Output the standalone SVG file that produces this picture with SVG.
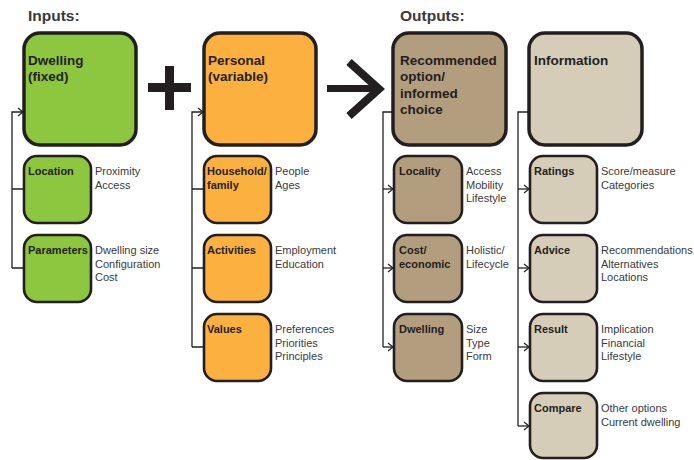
<svg xmlns="http://www.w3.org/2000/svg" width="694" height="460" viewBox="0 0 694 460">
  <style>
    .big { stroke: #231f20; stroke-width: 3.5; }
    .small { stroke: #231f20; stroke-width: 2.6; }
    .green { fill: #8dc63f; }
    .orange { fill: #fbb040; }
    .brown { fill: #b29e7f; }
    .beige { fill: #d6cdb9; }
    .head { font-family: "Liberation Sans", Arial, sans-serif; font-weight: bold; font-size: 15.5px; fill: #3a3a3a; }
    .title { font-family: "Liberation Sans", Arial, sans-serif; font-weight: bold; font-size: 13.5px; fill: #231f20; }
    .label { font-family: "Liberation Sans", Arial, sans-serif; font-weight: bold; font-size: 11px; fill: #231f20; }
    .desc { font-family: "Liberation Sans", Arial, sans-serif; font-size: 11px; fill: #3a3a3a; }
    .wire { fill: none; stroke: #231f20; stroke-width: 1.3; }
  </style>
  <defs>
    <marker id="arrow" markerWidth="8" markerHeight="10" refX="6" refY="5" orient="auto" markerUnits="userSpaceOnUse">
      <path d="M1,1 L6,5 L1,9" fill="none" stroke="#231f20" stroke-width="1.2"/>
    </marker>
  </defs>

  <rect width="694" height="460" fill="#ffffff"/>

  <!-- section headings -->
  <text class="head" x="28" y="21">Inputs:</text>
  <text class="head" x="400" y="21">Outputs:</text>

  <!-- operators between columns -->
  <g id="plus">
    <rect x="148" y="83" width="43" height="9" fill="#231f20"/>
    <rect x="165" y="66" width="9" height="44" fill="#231f20"/>
  </g>
  <g id="yields">
    <line x1="327" y1="88.5" x2="376" y2="88.5" stroke="#231f20" stroke-width="7"/>
    <polyline points="349,62 379,89 349,116" fill="none" stroke="#231f20" stroke-width="8"/>
  </g>

  <!-- connectors -->
  <g id="connectors">
    <path class="wire" d="M12,268 V112 H23" marker-end="url(#arrow)"/>
    <path class="wire" d="M12,189 H23 M12,268 H23"/>
    <path class="wire" d="M192,347 V112 H203" marker-end="url(#arrow)"/>
    <path class="wire" d="M192,189 H203 M192,268 H203 M192,347 H203"/>
    <path class="wire" d="M392,112 H383 V347"/>
    <path class="wire" d="M383,189 H393" marker-end="url(#arrow)"/>
    <path class="wire" d="M383,268 H393" marker-end="url(#arrow)"/>
    <path class="wire" d="M383,347 H393" marker-end="url(#arrow)"/>
    <path class="wire" d="M528,112 H518 V426"/>
    <path class="wire" d="M518,189 H529" marker-end="url(#arrow)"/>
    <path class="wire" d="M518,268 H529" marker-end="url(#arrow)"/>
    <path class="wire" d="M518,347 H529" marker-end="url(#arrow)"/>
    <path class="wire" d="M518,426 H529" marker-end="url(#arrow)"/>
  </g>

  <!-- Inputs: dwelling -->
  <g id="dwelling-fixed">
    <rect class="big green" x="24" y="33" width="112" height="112" rx="16"/>
    <text class="title" x="28" y="65">Dwelling</text>
    <text class="title" x="28" y="81">(fixed)</text>
  </g>
  <g id="location">
    <rect class="small green" x="24" y="156" width="67" height="67" rx="13"/>
    <text class="label" x="28" y="175">Location</text>
    <text class="desc" x="95" y="175">Proximity</text>
    <text class="desc" x="95" y="188.5">Access</text>
  </g>
  <g id="parameters">
    <rect class="small green" x="24" y="235" width="67" height="67" rx="13"/>
    <text class="label" x="28" y="254">Parameters</text>
    <text class="desc" x="95" y="254">Dwelling size</text>
    <text class="desc" x="95" y="267.5">Configuration</text>
    <text class="desc" x="95" y="281">Cost</text>
  </g>

  <!-- Inputs: personal -->
  <g id="personal">
    <rect class="big orange" x="204" y="33" width="112" height="112" rx="16"/>
    <text class="title" x="208" y="65">Personal</text>
    <text class="title" x="208" y="81">(variable)</text>
  </g>
  <g id="household">
    <rect class="small orange" x="204" y="156" width="67" height="67" rx="13"/>
    <text class="label" x="207" y="175">Household/</text>
    <text class="label" x="207" y="188.5">family</text>
    <text class="desc" x="275" y="175">People</text>
    <text class="desc" x="275" y="188.5">Ages</text>
  </g>
  <g id="activities">
    <rect class="small orange" x="204" y="235" width="67" height="67" rx="13"/>
    <text class="label" x="207" y="254">Activities</text>
    <text class="desc" x="275" y="254">Employment</text>
    <text class="desc" x="275" y="267.5">Education</text>
  </g>
  <g id="values">
    <rect class="small orange" x="204" y="314" width="67" height="67" rx="13"/>
    <text class="label" x="207" y="333">Values</text>
    <text class="desc" x="275" y="333">Preferences</text>
    <text class="desc" x="275" y="346.5">Priorities</text>
    <text class="desc" x="275" y="360">Principles</text>
  </g>

  <!-- Outputs: recommendation -->
  <g id="recommended">
    <rect class="big brown" x="393" y="33" width="113" height="112" rx="16"/>
    <text class="title" x="400" y="65">Recommended</text>
    <text class="title" x="400" y="81.3">option/</text>
    <text class="title" x="400" y="97.6">informed</text>
    <text class="title" x="400" y="114">choice</text>
  </g>
  <g id="locality">
    <rect class="small brown" x="394" y="156" width="68" height="67" rx="13"/>
    <text class="label" x="399" y="175">Locality</text>
    <text class="desc" x="466" y="175">Access</text>
    <text class="desc" x="466" y="188.5">Mobility</text>
    <text class="desc" x="466" y="202">Lifestyle</text>
  </g>
  <g id="cost">
    <rect class="small brown" x="394" y="235" width="68" height="67" rx="13"/>
    <text class="label" x="399" y="254">Cost/</text>
    <text class="label" x="399" y="267.5">economic</text>
    <text class="desc" x="466" y="254">Holistic/</text>
    <text class="desc" x="466" y="267.5">Lifecycle</text>
  </g>
  <g id="dwelling-out">
    <rect class="small brown" x="394" y="314" width="68" height="67" rx="13"/>
    <text class="label" x="399" y="333">Dwelling</text>
    <text class="desc" x="466" y="333">Size</text>
    <text class="desc" x="466" y="346.5">Type</text>
    <text class="desc" x="466" y="360">Form</text>
  </g>

  <!-- Outputs: information -->
  <g id="information">
    <rect class="big beige" x="529" y="33" width="113" height="112" rx="16"/>
    <text class="title" x="534" y="65">Information</text>
  </g>
  <g id="ratings">
    <rect class="small beige" x="530" y="156" width="67" height="67" rx="13"/>
    <text class="label" x="534" y="175">Ratings</text>
    <text class="desc" x="601" y="175">Score/measure</text>
    <text class="desc" x="601" y="188.5">Categories</text>
  </g>
  <g id="advice">
    <rect class="small beige" x="530" y="235" width="67" height="67" rx="13"/>
    <text class="label" x="534" y="254">Advice</text>
    <text class="desc" x="601" y="254">Recommendations</text>
    <text class="desc" x="601" y="267.5">Alternatives</text>
    <text class="desc" x="601" y="281">Locations</text>
  </g>
  <g id="result">
    <rect class="small beige" x="530" y="314" width="67" height="67" rx="13"/>
    <text class="label" x="534" y="333">Result</text>
    <text class="desc" x="601" y="333">Implication</text>
    <text class="desc" x="601" y="346.5">Financial</text>
    <text class="desc" x="601" y="360">Lifestyle</text>
  </g>
  <g id="compare">
    <rect class="small beige" x="530" y="393" width="67" height="65" rx="13"/>
    <text class="label" x="534" y="412">Compare</text>
    <text class="desc" x="601" y="412">Other options</text>
    <text class="desc" x="601" y="425.5">Current dwelling</text>
  </g>
</svg>
